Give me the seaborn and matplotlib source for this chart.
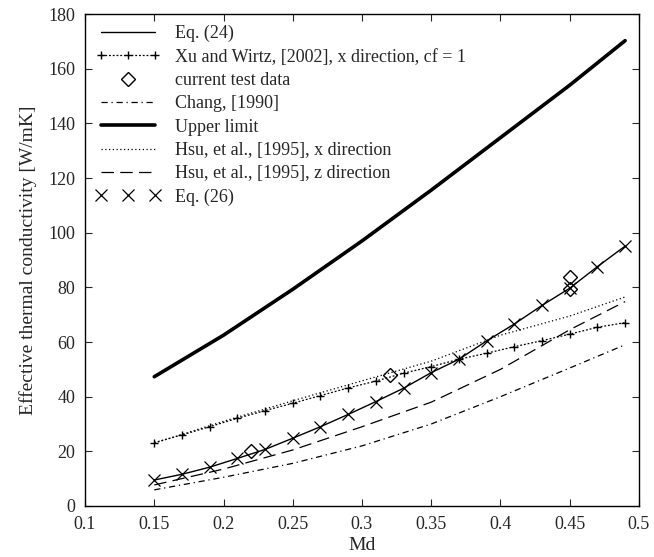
import numpy as np
import seaborn as sns
import matplotlib.pyplot as plt
from matplotlib.ticker import FuncFormatter
from matplotlib.legend_handler import HandlerLine2D

# Md values
md_fine = [0.15, 0.17, 0.19, 0.21, 0.23, 0.25, 0.27, 0.29, 0.31,
           0.33, 0.35, 0.37, 0.39, 0.41, 0.43, 0.45, 0.47, 0.49]
md_coarse = [0.15, 0.20, 0.25, 0.30, 0.35, 0.40, 0.45, 0.49]

# Eq. (24) / Eq. (26)
eq24 = [9.5, 11.6, 14.2, 17.4, 20.7, 24.8, 29.0, 33.5, 38.2,
        43.1, 48.8, 53.7, 60.4, 66.6, 73.4, 79.7, 87.6, 95.1]
eq26 = eq24

# Xu and Wirtz [2002]
xu = [23.2, 26.0, 29.0, 32.1, 34.9, 37.6, 40.4, 43.2, 45.7,
      48.6, 51.0, 53.7, 55.9, 58.3, 60.5, 62.9, 65.4, 67.1]

# coarse series
upper = [47.3, 62.5, 79.3, 97.0, 115.6, 134.8, 154.0, 170.3]
hsu_x = [23.0, 31.0, 38.5, 45.8, 53.0, 62.5, 69.5, 76.5]
hsu_z = [7.7, 13.5, 20.5, 29.0, 38.0, 50.0, 64.5, 74.8]
chang = [5.9, 10.5, 15.6, 22.0, 30.0, 40.0, 50.5, 59.0]

# current test data
test_md = [0.22, 0.32, 0.45, 0.45]
test_k = [20.1, 47.9, 83.7, 79.3]

sns.set_style("ticks")
plt.rcParams['font.family'] = ['Liberation Serif', 'DejaVu Serif']

fig = plt.figure(figsize=(6.54, 5.57), dpi=100)
ax = fig.add_axes([0.130, 0.0916, 0.847, 0.883])

sns.lineplot(x=md_fine, y=eq24, color='k', lw=1.0, ax=ax, label='Eq. (24)')
sns.lineplot(x=md_fine, y=xu, color='k', lw=0.9, linestyle=(0, (1.5, 1.5)),
             marker='+', markersize=5.5, markeredgewidth=1.0,
             markeredgecolor='k', ax=ax,
             label='Xu and Wirtz, [2002], x direction, cf = 1')
sns.lineplot(x=test_md, y=test_k, color='k', linestyle='none', marker='D',
             markersize=7, markerfacecolor='none', markeredgecolor='k',
             markeredgewidth=1.0, ax=ax, label='current test data',
             estimator=None, sort=False)
sns.lineplot(x=md_coarse, y=chang, color='k', lw=0.9,
             linestyle=(0, (5, 3, 1, 3)), ax=ax, label='Chang, [1990]')
sns.lineplot(x=md_coarse, y=upper, color='k', lw=2.6, ax=ax,
             label='Upper limit')
sns.lineplot(x=md_coarse, y=hsu_x, color='k', lw=0.9,
             linestyle=(0, (1, 2)), ax=ax,
             label='Hsu, et al., [1995], x direction')
sns.lineplot(x=md_coarse, y=hsu_z, color='k', lw=0.9,
             linestyle=(0, (10, 5)), ax=ax,
             label='Hsu, et al., [1995], z direction')
sns.lineplot(x=md_fine, y=eq26, color='k', linestyle='none', marker='x',
             markersize=8, markeredgewidth=0.9, markeredgecolor='k',
             ax=ax, label='Eq. (26)')

ax.set_xlim(0.1, 0.5)
ax.set_ylim(0, 180)
ax.set_xticks(np.arange(0.1, 0.501, 0.05))
ax.set_yticks(np.arange(0, 181, 20))
ax.xaxis.set_major_formatter(FuncFormatter(lambda v, p: f"{v:g}"))
ax.tick_params(direction='in', top=True, right=True, length=5,
               labelsize=13, width=0.8, pad=7)
for s in ax.spines.values():
    s.set_linewidth(1.0)
    s.set_color('k')

ax.set_xlabel('Md', fontsize=14, labelpad=3)
ax.set_ylabel('Effective thermal conductivity [W/mK]', fontsize=14,
              labelpad=8)

handles, labels = ax.get_legend_handles_labels()
test_handle = handles[2]
leg = ax.legend(handles, labels, loc='upper left', frameon=False,
                fontsize=13, numpoints=3, handlelength=3.6,
                handletextpad=0.8, labelspacing=0.35,
                borderaxespad=0.2,
                handler_map={test_handle: HandlerLine2D(numpoints=1)})

fig.savefig('out.png', dpi=100)
